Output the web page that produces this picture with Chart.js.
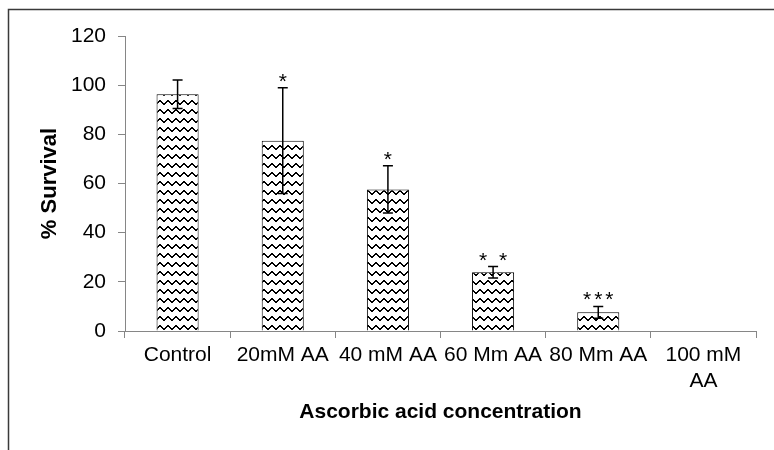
<!DOCTYPE html>
<html>
<head>
<meta charset="utf-8">
<title>% Survival vs ascorbic acid</title>
<script src="https://cdn.jsdelivr.net/npm/chart.js@4/dist/chart.umd.min.js"></script>
<style>
  html, body { margin: 0; padding: 0; background: #fff; }
  canvas { display: block; }
</style>
</head>
<body>
<canvas id="chartSurvival" width="774" height="450"></canvas>
<script>
// categories, means, error bars and significance marks
var concLabels = ['Control', '20mM AA', '40 mM AA', '60 Mm AA', '80 Mm AA', ['100 mM', 'AA']];
var survival = [96.3, 77.4, 57.6, 23.9, 7.6, 0];
var survivalErr = [5.8, 21.5, 9.6, 2.3, 2.4, 0];
var signif = ['', '*', '*', '* *', '***', ''];
var yMax = 120;
var yStep = 20;

var FONT = "'Liberation Sans', Arial, sans-serif";

// zigzag hatch used as bar fill
function zigzagPattern() {
  var c = document.createElement('canvas');
  c.width = 8;
  c.height = 9;
  var g = c.getContext('2d');
  g.fillStyle = '#fff';
  g.fillRect(0, 0, 8, 9);
  g.fillStyle = '#000';
  var ys = [1, 2, 3, 4, 4, 3, 2, 1];
  for (var x = 0; x < 8; x++) {
    g.fillRect(x, ys[x], 1, 2);
  }
  return g.createPattern(c, 'repeat');
}

// outer frame of the figure
var framePlugin = {
  id: 'frame',
  beforeDraw: function (chart) {
    var ctx = chart.ctx;
    ctx.save();
    ctx.strokeStyle = '#3a3a3a';
    ctx.lineWidth = 1.5;
    ctx.strokeRect(8.5, 9.5, 900, 600);
    ctx.restore();
  }
};

// error bars + asterisks over each bar
var errorBarPlugin = {
  id: 'errorBars',
  afterDatasetsDraw: function (chart) {
    var ctx = chart.ctx;
    var yScale = chart.scales.y;
    var meta = chart.getDatasetMeta(0);
    ctx.save();
    ctx.strokeStyle = '#000';
    ctx.fillStyle = '#000';
    ctx.lineWidth = 1.5;
    meta.data.forEach(function (bar, i) {
      var v = survival[i];
      var e = survivalErr[i];
      var x = bar.x;
      var top = yScale.getPixelForValue(v + e);
      if (e > 0) {
        var bot = yScale.getPixelForValue(v - e);
        ctx.beginPath();
        ctx.moveTo(x, top);
        ctx.lineTo(x, bot);
        ctx.moveTo(x - 5, top);
        ctx.lineTo(x + 5, top);
        ctx.moveTo(x - 5, bot);
        ctx.lineTo(x + 5, bot);
        ctx.stroke();
      }
      if (signif[i]) {
        ctx.font = '21px ' + FONT;
        ctx.textAlign = 'center';
        ctx.textBaseline = 'alphabetic';
        ctx.letterSpacing = '3px';
        ctx.fillText(signif[i], x + 1.5, top);
      }
    });
    ctx.restore();
  }
};

var ctx1 = document.getElementById('chartSurvival').getContext('2d');
var chart1 = new Chart(ctx1, {
  type: 'bar',
  data: {
    labels: concLabels,
    datasets: [{
      label: '% Survival',
      data: survival,
      backgroundColor: zigzagPattern(),
      borderColor: '#000',
      borderWidth: 1,
      barPercentage: 0.4,
      categoryPercentage: 1
    }]
  },
  options: {
    responsive: false,
    devicePixelRatio: 1,
    animation: false,
    layout: { padding: { left: 0, right: 18, top: 36, bottom: 0 } },
    plugins: {
      legend: { display: false },
      tooltip: { enabled: false }
    },
    scales: {
      x: {
        grid: { offset: true, drawOnChartArea: false, tickLength: 7, color: '#868686' },
        border: { color: '#868686' },
        ticks: { color: '#000', padding: 5, maxRotation: 0, autoSkip: false,
                 font: { family: FONT, size: 21, lineHeight: 1.2 } },
        title: { display: true, text: 'Ascorbic acid concentration', color: '#000',
                 font: { family: FONT, size: 21, weight: 'bold' },
                 padding: { top: 0, bottom: 25 } },
        afterFit: function (scale) { scale.height = 119; }
      },
      y: {
        min: 0,
        max: yMax,
        grid: { drawOnChartArea: false, tickLength: 7, color: '#868686' },
        border: { color: '#868686' },
        ticks: { stepSize: yStep, color: '#000', padding: 12,
                 font: { family: FONT, size: 21 } },
        title: { display: true, text: '% Survival', color: '#000',
                 font: { family: FONT, size: 22, weight: 'bold' },
                 padding: { top: 37, bottom: 0 } },
        afterFit: function (scale) { scale.width = 125; }
      }
    }
  },
  plugins: [framePlugin, errorBarPlugin]
});
</script>
</body>
</html>
